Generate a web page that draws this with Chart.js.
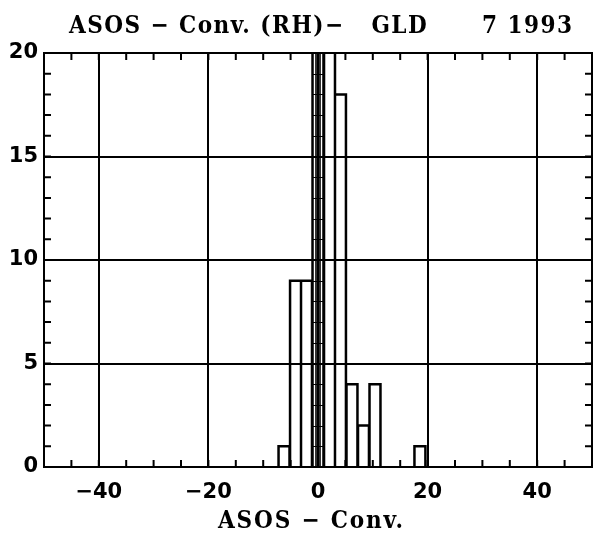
<!DOCTYPE html>
<html><head><meta charset="utf-8">
<script src="https://cdn.jsdelivr.net/npm/chart.js@4/dist/chart.umd.min.js"></script>
<style>html,body{margin:0;padding:0;background:#fff}#wrap{width:598px;height:533px}</style>
</head><body><div id="wrap"><canvas id="c" width="598" height="533"></canvas></div>
<script>
// ---- data ----
const binCenters = [-6.2, -4.1, -2.1, 0, 2.1, 4.1, 6.2, 8.3, 10.4, 18.6];
const binCounts  = [1, 9, 9, 24, 23, 18, 4, 2, 4, 1];
const binWidth = 2.07;
const unitBoxBins = [0];            // bin centres drawn as stacked unit boxes (3 columns)
const xTickValues = [-40, -20, 0, 20, 40];
const yTickValues = [0, 5, 10, 15, 20];
const xMinorStep = 5;
const yMinorStep = 1;
const titleText = 'ASOS \u2212 Conv. (RH)\u2212   GLD      7 1993';
const xTitleText = 'ASOS \u2212 Conv.';

const minus = v => String(v).replace('-', '\u2212');
const serif = "'DejaVu Serif Condensed', 'DejaVu Serif', serif";

// draws a text stretched (via letter spacing) between two x positions
function spacedText(ctx, text, x0, x1, yBase, font) {
  ctx.save();
  ctx.font = font;
  ctx.fillStyle = '#000';
  ctx.textAlign = 'left';
  ctx.textBaseline = 'alphabetic';
  const w = ctx.measureText(text).width;
  const n = [...text].length;
  const sp = Math.max(0, (x1 - x0 - w) / (n - 1));
  ctx.letterSpacing = sp.toFixed(2) + 'px';
  ctx.fillText(text, x0, yBase);
  ctx.restore();
}

const framePlugin = {
  id: 'frame',
  afterDatasetsDraw(chart) {
    const {ctx, chartArea: a, scales: {x, y}} = chart;
    ctx.save();
    ctx.beginPath(); ctx.rect(a.left, a.top, a.right - a.left, a.bottom - a.top); ctx.clip();
    ctx.strokeStyle = '#000';
    // bar outlines, taken from the library's bar elements
    ctx.lineWidth = 2.5;
    ctx.beginPath();
    chart.getDatasetMeta(0).data.forEach(b => {
      const p = b.getProps(['x', 'y', 'base', 'width'], true);
      const l = p.x - p.width / 2, r = p.x + p.width / 2;
      ctx.moveTo(l, p.base); ctx.lineTo(l, p.y); ctx.lineTo(r, p.y); ctx.lineTo(r, p.base);
    });
    ctx.stroke();
    unitBoxBins.forEach(c => {
      const i = binCenters.indexOf(c);
      const n = binCounts[i];
      const l = x.getPixelForValue(c - binWidth / 2), r = x.getPixelForValue(c + binWidth / 2);
      ctx.lineWidth = 1.2;
      ctx.beginPath();
      for (let k = 1; k <= n; k++) {
        const py = Math.round(y.getPixelForValue(k)) + 0.5;
        ctx.moveTo(l, py); ctx.lineTo(r, py);
      }
      ctx.stroke();
      ctx.lineWidth = 1.6;
      ctx.beginPath();
      [1 / 3, 2 / 3].forEach(f => {
        const px = Math.round(x.getPixelForValue(c - binWidth / 2 + binWidth * f));
        ctx.moveTo(px, y.getPixelForValue(0)); ctx.lineTo(px, y.getPixelForValue(n));
      });
      ctx.stroke();
    });
    ctx.restore();
    ctx.save();
    ctx.strokeStyle = '#000'; ctx.lineWidth = 2;
    ctx.beginPath();
    ctx.rect(a.left, a.top, a.right - a.left, a.bottom - a.top);
    const tl = 7;
    for (let v = x.min; v <= x.max; v += xMinorStep) {
      const px = x.getPixelForValue(v);
      ctx.moveTo(px, a.bottom); ctx.lineTo(px, a.bottom - tl);
      ctx.moveTo(px, a.top); ctx.lineTo(px, a.top + tl);
    }
    for (let v = y.min; v <= y.max; v += yMinorStep) {
      const py = y.getPixelForValue(v);
      ctx.moveTo(a.left, py); ctx.lineTo(a.left + tl, py);
      ctx.moveTo(a.right, py); ctx.lineTo(a.right - tl, py);
    }
    ctx.stroke();
    ctx.restore();
  },
  afterDraw(chart) {
    const {ctx} = chart;
    const f = 'bold 24px ' + serif;
    spacedText(ctx, titleText, 69, 572, 33, f);
    spacedText(ctx, xTitleText, 218, 403, 528, f);
  }
};

new Chart(document.getElementById('c'), {
  type: 'bar',
  data: {
    datasets: [{
      data: binCenters.map((c, i) => ({x: c, y: binCounts[i]})),
      backgroundColor: 'rgba(0,0,0,0)',
      borderColor: '#000',
      borderWidth: 0,
      barPercentage: 1,
      categoryPercentage: 1
    }]
  },
  options: {
    responsive: false,
    animation: false,
    layout: {padding: {left: 0, right: 6, top: 53, bottom: 0}},
    plugins: {
      legend: {display: false},
      tooltip: {enabled: false},
      title: {display: false}
    },
    scales: {
      x: {
        type: 'linear', min: -50, max: 50, offset: false,
        afterBuildTicks: s => { s.ticks = xTickValues.map(v => ({value: v})); },
        afterFit: s => { s.height = 66; },
        ticks: {color: '#000', font: {family: 'DejaVu Sans', size: 21, weight: 'bold'}, padding: 13, callback: v => minus(v), maxRotation: 0},
        grid: {color: '#000', lineWidth: 2, drawTicks: false, offset: false},
        border: {color: '#000', width: 2}
      },
      y: {
        min: 0, max: 20,
        afterBuildTicks: s => { s.ticks = yTickValues.map(v => ({value: v})); },
        afterFit: s => { s.width = 44; },
        ticks: {color: '#000', font: {family: 'DejaVu Sans', size: 21, weight: 'bold'}, padding: 6},
        grid: {color: '#000', lineWidth: 2, drawTicks: false},
        border: {color: '#000', width: 2}
      }
    }
  },
  plugins: [framePlugin]
});
</script>
</body></html>
